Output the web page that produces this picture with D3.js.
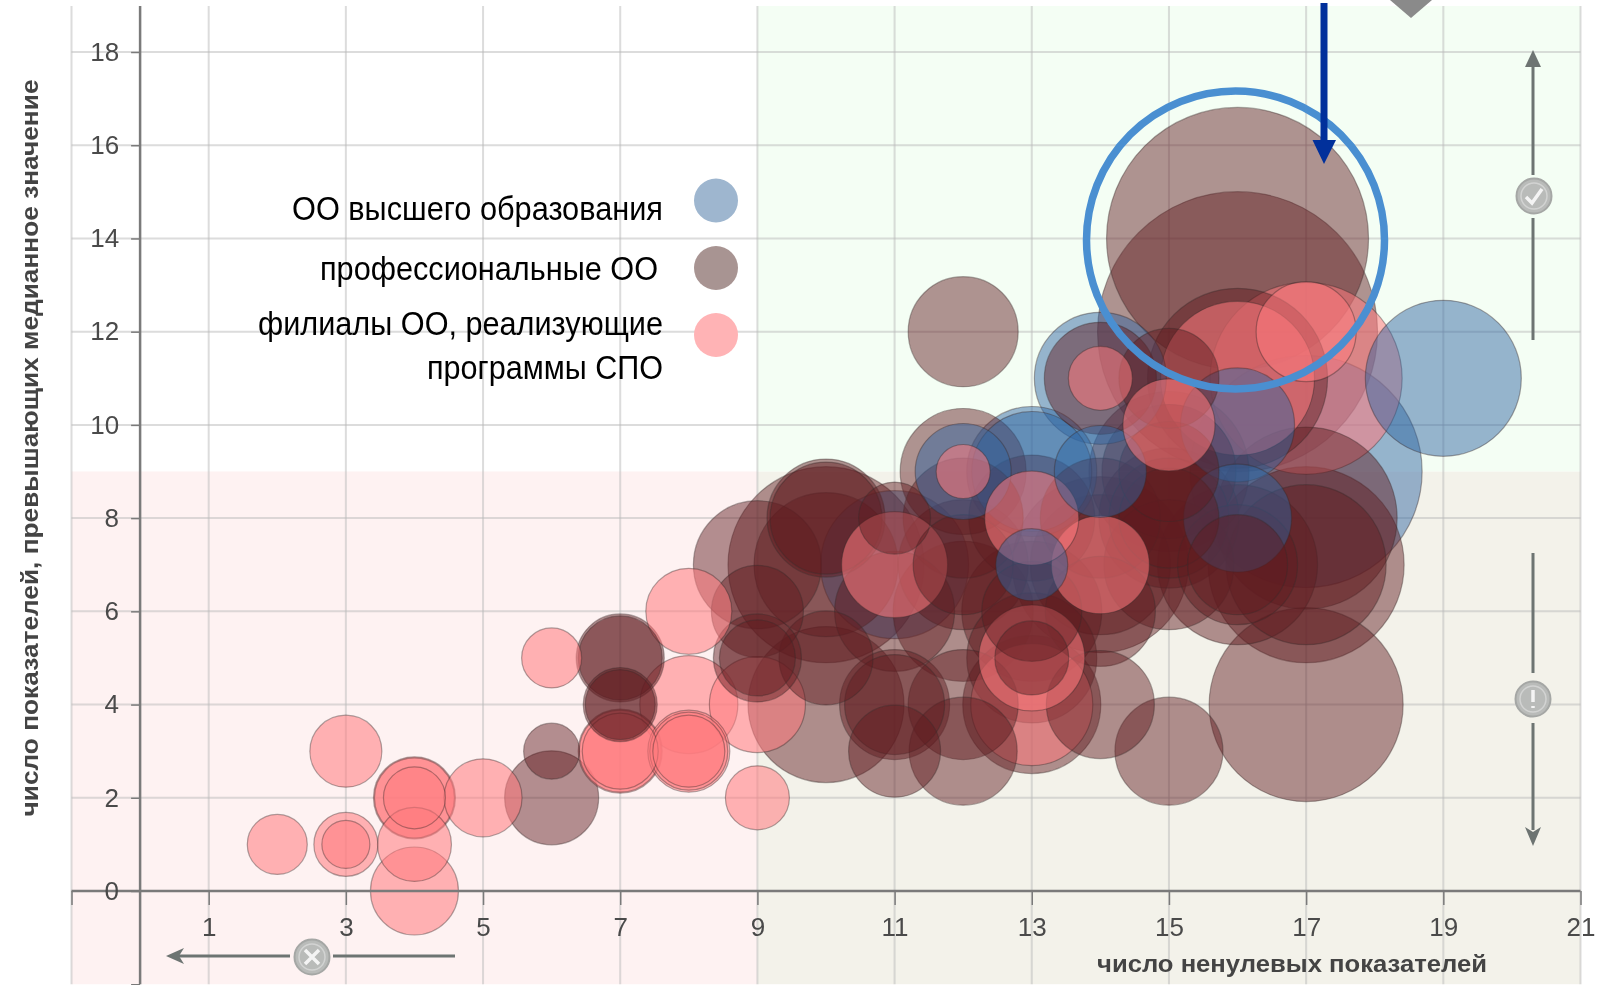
<!DOCTYPE html>
<html><head><meta charset="utf-8">
<script src="https://cdnjs.cloudflare.com/ajax/libs/d3/7.8.5/d3.min.js"></script>
<style>html,body{margin:0;padding:0;background:#fff}svg{display:block;filter:blur(.5px)}text{font-family:"Liberation Sans",Arial,sans-serif}</style>
</head><body><svg id="c" width="1604" height="985"></svg>
<script>
// Each record: [non-zero indicators, indicators above median, bubble size]
const higher = [[19,11,7.8],[17,9,11.6],[16,10,5.7],[16,8,5.4],[14,11,6.6],[13,9,6.5],[13,9,6],[14,9,4.6],[13,7,3.6],[12,9,4.8],[11,7,7.4]];
const professional = [[16,14,13.1],[16,12,14],[17,4,9.7],[15,3,5.4],[14,4,5.4],[13,4,6.9],[12,3,5.4],[11,3,4.6],[10,4,7.8],[11,4,5.5],[11,4,5],[12,4,5.5],[10,5,4.7],[9,5,4.4],[9,5,3.8],[9,6,4.6],[9,7,6.4],[10,7,9.8],[10,7,7.2],[10,8,5.9],[10,8,5.6],[11,8,3.6],[12,9,6.3],[12,12,5.5],[12,7,5],[12,7,6.5],[12,8,6],[13,8,6.3],[13,5,6.5],[13,5,3.7],[14,7,8.8],[14,7,7],[14,6,5.5],[14,8,6],[15,7,6.5],[15,8,7],[15,8,6],[15,8,5],[15,9,8],[15,9,6.7],[15,9,5],[15,11,5],[16,11,9],[14,11,5.6],[16,7,8],[16,7,6],[16,7,5],[17,7,9.8],[17,7,8],[17,8,9.1],[7,5,4.4],[7,5,4.2],[7,4,3.7],[7,4,3.5],[6,3,2.8],[6,2,4.7],[11,6,6],[12,6,7],[13,6,7],[13,6,5]];
const branches = [[2,1,3],[3,1,3.2],[3,1,2.4],[3,3,3.6],[4,0,4.4],[4,1,3.7],[4,2,4.1],[4,2,4],[4,2,3.1],[5,2,3.9],[6,5,3],[7,3,4.2],[7,3,4.1],[7,3,3.8],[8,3,4.1],[8,3,3.9],[8,3,3.6],[8,4,4.9],[8,6,4.3],[9,2,3.2],[9,4,4.8],[11,7,5.3],[12,9,2.7],[13,8,4.7],[13,5,5.3],[13,4,6.1],[14,7,4.9],[14,11,3.2],[15,10,4.6],[16,11,7.7],[17,12,5],[17,11,9.6]];
const xTicks = [-1,1,3,5,7,9,11,13,15,17,19,21];
const yTicks = [-2,0,2,4,6,8,10,12,14,16,18];
const legendDots = ["higher","professional","branches"];
const seriesColor = {higher:"#2e64a0",professional:"#5f1c20",branches:"#ff7a7e"};
const seriesAlpha = {higher:.48,professional:.47,branches:.55};
const legendColor = {higher:"#9eb6cf",professional:"#a89492",branches:"#ffb3b5"};

const svg = d3.select("#c");
const x = d3.scaleLinear().domain([-1,21]).range([71.5,1580.5]);
const y = d3.scaleLinear().domain([0,18]).range([891,52]);
const r = d3.scaleLinear().domain([0,14]).range([0,140]);
const yTop = y.invert(6), yBottom = -2;

// zones
const zones = [
  {x0:-1,x1:9,y0:yBottom,y1:9,c:"#fef2f2"},
  {x0:9,x1:21,y0:yBottom,y1:9,c:"#f3f2ea"},
  {x0:9,x1:21,y0:9,y1:yTop,c:"#f4fef4"}];
svg.selectAll("rect.z").data(zones).join("rect").attr("class","z")
  .attr("x",d=>x(d.x0)).attr("width",d=>x(d.x1)-x(d.x0))
  .attr("y",d=>y(d.y1)).attr("height",d=>y(d.y0)-y(d.y1)).attr("fill",d=>d.c);

// grid
const grid = svg.append("g").attr("stroke","#b9b9b9").attr("stroke-opacity",.5).attr("stroke-width",2);
grid.selectAll("line.v").data(xTicks).join("line").attr("class","v")
  .attr("x1",d=>x(d)).attr("x2",d=>x(d)).attr("y1",y(yTop)).attr("y2",y(yBottom));
grid.selectAll("line.h").data(yTicks.filter(d=>d>0)).join("line").attr("class","h")
  .attr("x1",x(-1)).attr("x2",x(21)).attr("y1",d=>y(d)).attr("y2",d=>y(d));

// bubbles, big ones underneath
const all = [].concat(
  higher.map(d=>({s:"higher",v:d})),
  professional.map(d=>({s:"professional",v:d})),
  branches.map(d=>({s:"branches",v:d}))).sort((a,b)=>b.v[2]-a.v[2]);
svg.append("g").selectAll("circle").data(all).join("circle")
  .attr("cx",d=>x(d.v[0])).attr("cy",d=>y(d.v[1])).attr("r",d=>r(d.v[2]))
  .attr("fill",d=>seriesColor[d.s]).attr("fill-opacity",d=>seriesAlpha[d.s])
  .attr("stroke","#3a2a2a").attr("stroke-opacity",.4).attr("stroke-width",1.2);

// axes
const axX = svg.append("g").attr("transform",`translate(0,${y(0)})`)
  .call(d3.axisBottom(x).tickValues(xTicks).tickSize(14).tickPadding(13).tickFormat(d=>d<0?"":d));
const axY = svg.append("g").attr("transform",`translate(${x(0)},0)`)
  .call(d3.axisLeft(y).tickValues(yTicks).tickSize(9).tickSizeOuter(0).tickPadding(12).tickFormat(d=>d<0?"":d));
axY.select(".domain").attr("d",`M0,${y(yTop)}V${y(yBottom)}`);
axX.select(".domain").attr("d",`M${x(-1)},0H${x(21)}`);
[axX,axY].forEach(a=>{
  a.select(".domain").attr("stroke","#7a7a7a").attr("stroke-width",2.5);
  a.selectAll(".tick line").attr("stroke","#7a7a7a").attr("stroke-width",1.5);
  a.selectAll("text").attr("fill","#4a4a4a").attr("font-size",26);
});

// titles
svg.append("text").attr("transform","translate(38,448) rotate(-90)").attr("text-anchor","middle")
  .attr("font-weight","bold").attr("font-size",24).attr("fill","#444")
  .attr("textLength",737).attr("lengthAdjust","spacingAndGlyphs")
  .text("число показателей, превышающих медианное значение");
svg.append("text").attr("x",1292).attr("y",972).attr("text-anchor","middle")
  .attr("font-weight","bold").attr("font-size",24).attr("fill","#444")
  .attr("textLength",390).attr("lengthAdjust","spacingAndGlyphs")
  .text("число ненулевых показателей");

// legend
const legendRows = [
  {t:"ОО высшего образования",xe:663,y:220,w:371},
  {t:"профессиональные ОО",xe:658,y:280,w:338},
  {t:"филиалы ОО, реализующие",xe:663,y:335,w:405},
  {t:"программы СПО",xe:663,y:379,w:236}];
svg.append("g").selectAll("text").data(legendRows).join("text")
  .attr("x",d=>d.xe-d.w).attr("y",d=>d.y).attr("font-size",33).attr("fill","#000")
  .attr("textLength",d=>d.w).attr("lengthAdjust","spacingAndGlyphs").text(d=>d.t);
svg.append("g").selectAll("circle").data(legendDots).join("circle")
  .attr("cx",716).attr("cy",(d,i)=>[200.5,268,335][i]).attr("r",22)
  .attr("fill",d=>legendColor[d]);

// callout ring and arrow
svg.append("circle").attr("cx",1235.5).attr("cy",240).attr("r",149).attr("fill","none")
  .attr("stroke","#4a8fd1").attr("stroke-width",7.5);
svg.append("path").attr("d","M1320.5,3H1327.5V140H1336L1324,164L1312.5,140H1320.5Z").attr("fill","#01309b");
svg.append("path").attr("d","M1390,0H1432L1411,18Z").attr("fill","#8a8a8a");

// guide arrows
const g = svg.append("g").attr("stroke","#6d7472").attr("stroke-width",3).attr("fill","none");
g.append("path").attr("d","M1533,175V62M1533,218V340");
g.append("path").attr("d","M1533,50L1541,67H1525Z").attr("fill","#6d7472").attr("stroke","none");
g.append("path").attr("d","M1533,553V673M1533,723V830");
g.append("path").attr("d","M1533,846L1541,827L1533,832L1525,827Z").attr("fill","#6d7472").attr("stroke","none");
g.append("path").attr("d","M175,956H290M333,956H455");
g.append("path").attr("d","M166,956L184,948L179,956L184,964Z").attr("fill","#6d7472").attr("stroke","none");
const icons = [{cx:1534,cy:196,k:"M-8,1L-2,7L8,-7"},{cx:1533,cy:699,k:"M0,-9V3M0,7V9"},{cx:312,cy:957,k:"M-7,-7L7,7M-7,7L7,-7"}];
const ig = svg.append("g").selectAll("g").data(icons).join("g").attr("transform",d=>`translate(${d.cx},${d.cy})`);
ig.append("circle").attr("r",17.5).attr("fill","#b9bbb9").attr("stroke","#a5a7a5").attr("stroke-width",2);
ig.append("circle").attr("r",13).attr("fill","none").attr("stroke","#d2d3d2").attr("stroke-width",1.5);
ig.append("path").attr("d",d=>d.k).attr("fill","none").attr("stroke","#f4f4f4").attr("stroke-width",3.5);
</script></body></html>
